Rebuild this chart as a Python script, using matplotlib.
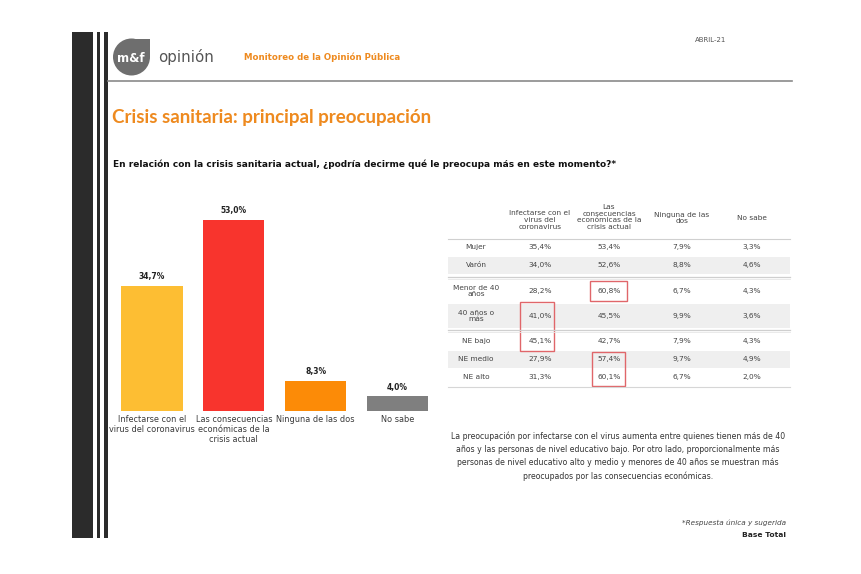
import matplotlib
matplotlib.use("Agg")
import matplotlib.pyplot as plt
from matplotlib.patches import Rectangle, Ellipse

plt.rcParams['font.family'] = ['DejaVu Sans']

# ---------------- data ----------------
categories = ["Infectarse con el\nvirus del coronavirus",
              "Las consecuencias\neconómicas de la\ncrisis actual",
              "Ninguna de las dos",
              "No sabe"]
totals = [34.7, 53.0, 8.3, 4.0]
bar_colors = ["#FDBE33", "#F8342D", "#FC8B07", "#7F7F7F"]

col_headers = ["Infectarse con el\nvirus del\ncoronavirus",
               "Las\nconsecuencias\neconómicas de la\ncrisis actual",
               "Ninguna de las\ndos",
               "No sabe"]
row_labels = ["Mujer", "Varón", "Menor de 40\naños", "40 años o\nmás",
              "NE bajo", "NE medio", "NE alto"]
infectarse = [35.4, 34.0, 28.2, 41.0, 45.1, 27.9, 31.3]
consecuencias = [53.4, 52.6, 60.8, 45.5, 42.7, 57.4, 60.1]
ninguna = [7.9, 8.8, 6.7, 9.9, 7.9, 9.7, 6.7]
no_sabe = [3.3, 4.6, 4.3, 3.6, 4.3, 4.9, 2.0]

title = "Crisis sanitaria: principal preocupación"
question = "En relación con la crisis sanitaria actual, ¿podría decirme qué le preocupa más en este momento?*"
note = ("La preocupación por infectarse con el virus aumenta entre quienes tienen más de 40\n"
        "años y las personas de nivel educativo bajo. Por otro lado, proporcionalmente más\n"
        "personas de nivel educativo alto y medio y menores de 40 años se muestran más\n"
        "preocupados por las consecuencias económicas.")

W, H = 862, 574
fig = plt.figure(figsize=(W / 100, H / 100), dpi=100)
fig.patch.set_facecolor("white")


def fx(x):
    return x / W


def fy(y):
    return 1 - y / H


def frect(x0, y0, x1, y1, **kw):
    fig.patches.append(Rectangle((fx(x0), fy(y1)), fx(x1) - fx(x0), fy(y0) - fy(y1),
                                 transform=fig.transFigure, **kw))


def fline(x0, x1, y, color, lw):
    fig.add_artist(plt.Line2D([fx(x0), fx(x1)], [fy(y), fy(y)], color=color, lw=lw,
                              transform=fig.transFigure))


def pct(v):
    return f"{v:.1f}".replace(".", ",") + "%"


# ---------------- left decorative bars ----------------
frect(72, 32, 93, 538, color="#2b2b2b", lw=0)
frect(97, 32, 100.5, 538, color="#2b2b2b", lw=0)
frect(104, 32, 107.5, 538, color="#2b2b2b", lw=0)

# ---------------- header ----------------
logo_c = "#6e6e6e"
fig.patches.append(Ellipse((fx(131.5), fy(57)), 37 / W, 37 / H, transform=fig.transFigure,
                           color=logo_c, lw=0))
frect(131.5, 38.5, 150, 57, color=logo_c, lw=0)
fig.text(fx(131), fy(58), "m&f", color="white", fontsize=8.5, fontweight="bold",
         ha="center", va="center")
fig.text(fx(158), fy(57), "opinión", color="#555555", fontsize=10.8,
         ha="left", va="center")
fig.text(fx(244), fy(57), "Monitoreo de la Opinión Pública", color="#EE8A1F",
         fontsize=6.2, fontweight="bold", ha="left", va="center")
fig.text(fx(711), fy(40), "ABRIL-21", color="#555555", fontsize=5,
         ha="center", va="center")
fline(108, 792, 80.5, "#8a8a8a", 1.2)

fig.text(fx(112), fy(118), title, color="#EE8A1F", fontsize=13.5, fontweight="bold",
         family="Lato", ha="left", va="center")
fig.text(fx(113), fy(164), question, color="#111111", fontsize=6.5, fontweight="bold",
         ha="left", va="center")

# ---------------- bar chart ----------------
step = 81.8
ax_left = 152 - 0.55 * step
ax_right = 152 + 3.55 * step
base = 410.5
top = base - 60 * 3.6
ax = fig.add_axes([fx(ax_left), fy(base), fx(ax_right) - fx(ax_left), fy(top) - fy(base)])
xs = list(range(len(categories)))
bars = ax.bar(xs, totals, width=0.75, color=bar_colors, lw=0)
ax.set_xlim(-0.55, 3.55)
ax.set_ylim(0, 60)
for b, v in zip(bars, totals):
    ax.text(b.get_x() + b.get_width() / 2, v + 1.2, pct(v), ha="center", va="bottom",
            fontsize=5.5, fontweight="bold", color="#222222")
ax.set_xticks(xs)
ax.set_xticklabels(categories, fontsize=5.9, color="#3a3a3a", linespacing=1.2)
ax.tick_params(axis="x", length=0, pad=3)
ax.set_yticks([])
for s in ax.spines.values():
    s.set_visible(False)
ax.patch.set_alpha(0)

# ---------------- table ----------------
col_x = [540, 609, 682, 752]
label_x = 476
row_y = [247, 265, 291, 316, 341, 359, 377]
row_h = [17, 17, 22, 24, 17, 17, 17]
shaded = [False, True, False, True, False, True, False]

for y, h, s in zip(row_y, row_h, shaded):
    if s:
        frect(448, y - h / 2, 790, y + h / 2, color="#EFEFEF", lw=0)

fline(448, 790, 238.5, "#d0d0d0", 0.8)
fline(448, 790, 256, "#ffffff", 0.8)
fline(448, 790, 276.5, "#cfcfcf", 0.9)
fline(448, 790, 279, "#e6e6e6", 0.6)
fline(448, 790, 329.5, "#cfcfcf", 0.9)
fline(448, 790, 332, "#e6e6e6", 0.6)
fline(448, 790, 386.5, "#d6d6d6", 0.8)

header_y = [220, 217, 218, 218]
for x, hd, y in zip(col_x, col_headers, header_y):
    fig.text(fx(x), fy(y), hd, ha="center", va="center", fontsize=5.3,
             color="#444444", linespacing=1.15)

columns = [infectarse, consecuencias, ninguna, no_sabe]
for i, (lab, y) in enumerate(zip(row_labels, row_y)):
    fig.text(fx(label_x), fy(y), lab, ha="center", va="center", fontsize=5.3,
             color="#444444", linespacing=1.15)
    for x, col in zip(col_x, columns):
        fig.text(fx(x), fy(y), pct(col[i]), ha="center", va="center", fontsize=5.3,
                 color="#444444")

# highlight boxes
box_c = "#E0666A"
for (x0, y0, x1, y1) in [(590, 281, 627, 301), (520, 302, 554, 351), (592, 352, 625, 386)]:
    frect(x0, y0, x1, y1, fill=False, edgecolor=box_c, lw=1.0)

# ---------------- note ----------------
fig.text(fx(618), fy(456), note, ha="center", va="center", fontsize=5.6,
         color="#333333", linespacing=1.6)

fig.text(fx(786), fy(523), "*Respuesta única y sugerida", ha="right", va="center",
         fontsize=5.2, style="italic", color="#444444")
fig.text(fx(786), fy(535), "Base Total", ha="right", va="center",
         fontsize=5.4, fontweight="bold", color="#222222")

fig.savefig("out.png", dpi=100, facecolor="white")
